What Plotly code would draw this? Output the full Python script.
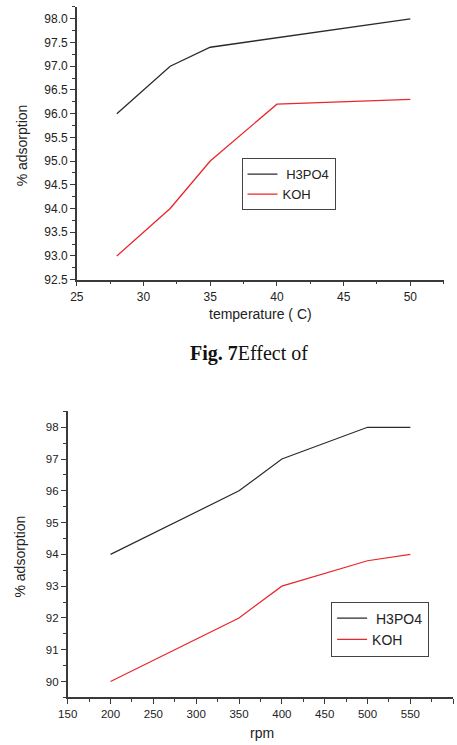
import plotly.graph_objects as go

# Chart 1: temperature
temp = [28, 32, 35, 40, 50]
h3po4_temp = [96.0, 97.0, 97.4, 97.6, 98.0]
koh_temp = [93.0, 94.0, 95.0, 96.2, 96.3]

# Chart 2: rpm
rpm = [200, 350, 400, 500, 550]
h3po4_rpm = [94.0, 96.0, 97.0, 98.0, 98.0]
koh_rpm = [90.0, 92.0, 93.0, 93.8, 94.0]

series_names = [" H3PO4", "KOH"]
caption = "<b>Fig. 7</b>Effect of"

BLACK = "#2b2b2b"
RED = "#e8262b"
AX = "#3a3a3a"
FONT = "Liberation Sans, Arial, sans-serif"
W, H = 457, 745

fig = go.Figure()
fig.add_trace(go.Scatter(x=temp, y=h3po4_temp, mode="lines", name=series_names[0],
                         line=dict(color=BLACK, width=1.3), xaxis="x", yaxis="y", legend="legend"))
fig.add_trace(go.Scatter(x=temp, y=koh_temp, mode="lines", name=series_names[1],
                         line=dict(color=RED, width=1.3), xaxis="x", yaxis="y", legend="legend"))
fig.add_trace(go.Scatter(x=rpm, y=h3po4_rpm, mode="lines", name=series_names[0],
                         line=dict(color=BLACK, width=1.2), xaxis="x2", yaxis="y2", legend="legend2"))
fig.add_trace(go.Scatter(x=rpm, y=koh_rpm, mode="lines", name=series_names[1],
                         line=dict(color=RED, width=1.2), xaxis="x2", yaxis="y2", legend="legend2"))


def ax(rng, dom, anchor, dtick, mdtick, fsize, fmt=None):
    d = dict(range=rng, domain=dom, anchor=anchor, dtick=dtick, tick0=0,
             showgrid=False, zeroline=False, showline=True, linecolor=AX, linewidth=1.5,
             ticks="outside", ticklen=5, tickwidth=1.2, tickcolor=AX,
             tickfont=dict(family=FONT, size=fsize, color="#222"),
             minor=dict(ticks="outside", ticklen=3, tickwidth=1, tickcolor=AX, dtick=mdtick, tick0=0),
             fixedrange=True)
    if fmt:
        d["tickformat"] = fmt
    return d


x1dom = [68.3 / W, 443.4 / W]
y1dom = [1 - 282.3 / H, 1 - 7 / H]
x2dom = [59 / W, 453.1 / W]
y2dom = [1 - 704 / H, 1 - 415.3 / H]

fig.update_layout(
    width=W, height=H, autosize=False,
    margin=dict(l=0, r=0, t=0, b=0),
    paper_bgcolor="white", plot_bgcolor="white",
    xaxis=ax([25, 52.5], x1dom, "y", 5, 2.5, 12),
    yaxis=ax([92.5, 98.25], y1dom, "x", 0.5, 0.25, 12, ".1f"),
    xaxis2=ax([150, 600], x2dom, "y2", 50, 25, 11.5),
    yaxis2=ax([89.5, 98.5], y2dom, "x2", 1, 0.5, 11.5),
    legend=dict(x=236.7 / W, y=1 - 186 / H, xanchor="left", yanchor="middle",
                bordercolor="#444", borderwidth=1, bgcolor="white",
                font=dict(family=FONT, size=13, color="#222"), itemwidth=30,
                tracegroupgap=0),
    legend2=dict(x=328.3 / W, y=1 - 635 / H, xanchor="left", yanchor="middle",
                 bordercolor="#444", borderwidth=1, bgcolor="white",
                 font=dict(family=FONT, size=14, color="#222"), itemwidth=30,
                 tracegroupgap=0),
    showlegend=True,
)

ann = [
    dict(text="% adsorption", x=12 / W, y=1 - 147 / H, textangle=-90),
    dict(text="temperature ( C)", x=256 / W, y=1 - 317 / H, textangle=0),
    dict(text="% adsorption", x=10 / W, y=1 - 562 / H, textangle=-90),
    dict(text="rpm", x=258 / W, y=1 - 740 / H, textangle=0),
]
for a in ann:
    fig.add_annotation(xref="paper", yref="paper", showarrow=False, xanchor="center", yanchor="middle",
                       font=dict(family=FONT, size=14, color="#222"), **a)

fig.add_annotation(text=caption, xref="paper", yref="paper", x=244 / W, y=1 - 357 / H,
                   showarrow=False, xanchor="center", yanchor="middle",
                   font=dict(family="Liberation Serif, Times New Roman, serif", size=20, color="#111"))

fig.write_html("out.html")
